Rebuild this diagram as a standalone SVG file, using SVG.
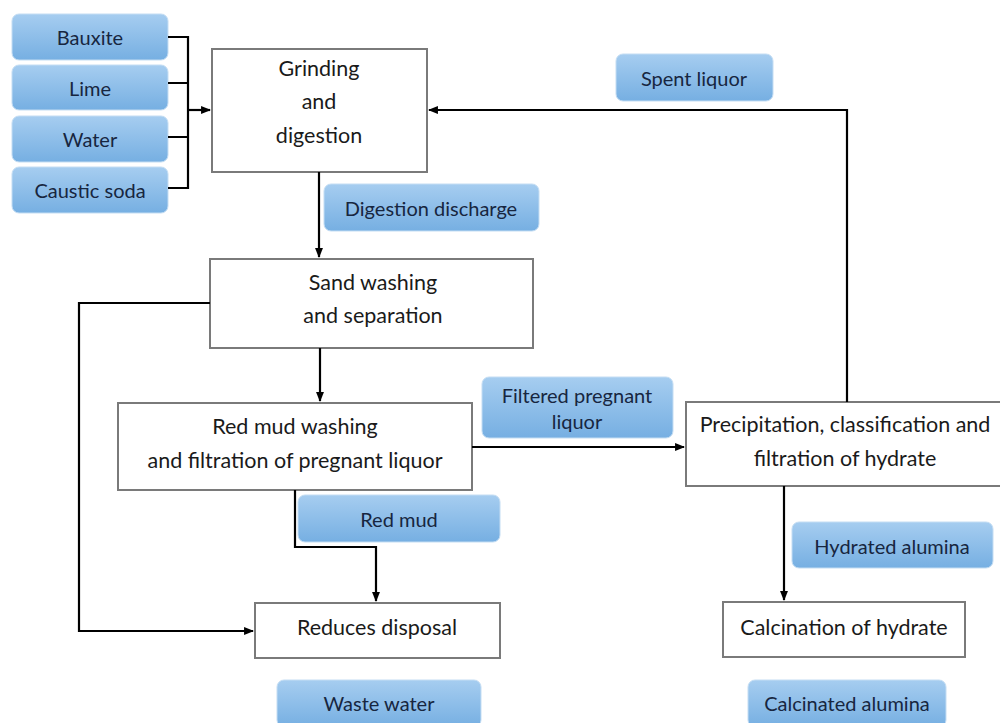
<svg xmlns="http://www.w3.org/2000/svg" width="1000" height="723" viewBox="0 0 1000 723">
<defs>
<linearGradient id="blue" x1="0" y1="0" x2="0" y2="1">
<stop offset="0" stop-color="#a6cdf0"/>
<stop offset="1" stop-color="#76afe2"/>
</linearGradient>
<marker id="arr" viewBox="0 0 10 10" refX="9" refY="5" markerWidth="4.5" markerHeight="4.5" orient="auto">
<path d="M0,1 L10,5 L0,9 z" fill="#000"/>
</marker>
<style>
.lbl rect{fill:url(#blue);stroke:#c4ddf3;stroke-width:1}
.lbl text{font-family:Lato,"Liberation Sans",sans-serif;font-size:20px;fill:#172640;text-anchor:middle;dominant-baseline:central}
.box rect{fill:#fff;stroke:#7a7a7a;stroke-width:2}
.box text{font-family:Lato,"Liberation Sans",sans-serif;font-size:21.5px;fill:#1a1a1a;text-anchor:middle;dominant-baseline:central}
.conn path{fill:none;stroke:#000;stroke-width:2.2}
</style>
</defs>
<rect width="1000" height="723" fill="#fff"/>

<g id="bauxite" class="lbl"><rect x="12" y="14" width="156" height="46" rx="7"/><text x="90" y="37">Bauxite</text></g>
<g id="lime" class="lbl"><rect x="12" y="65" width="156" height="45" rx="7"/><text x="90" y="88">Lime</text></g>
<g id="water" class="lbl"><rect x="12" y="116" width="156" height="46" rx="7"/><text x="90" y="139">Water</text></g>
<g id="caustic" class="lbl"><rect x="12" y="167" width="156" height="46" rx="7"/><text x="90" y="190">Caustic soda</text></g>

<g id="spent" class="lbl"><rect x="616" y="54" width="157" height="47" rx="7"/><text x="694" y="78">Spent liquor</text></g>
<g id="digdis" class="lbl"><rect x="324" y="184" width="215" height="47" rx="7"/><text x="431" y="208">Digestion discharge</text></g>
<g id="filtered" class="lbl"><rect x="482" y="377" width="191" height="61" rx="7"/><text x="577" y="395">Filtered pregnant</text><text x="577" y="421">liquor</text></g>
<g id="redmudlbl" class="lbl"><rect x="298" y="495" width="202" height="47" rx="7"/><text x="399" y="519">Red mud</text></g>
<g id="hydrated" class="lbl"><rect x="792" y="522" width="201" height="46" rx="7"/><text x="892" y="546">Hydrated alumina</text></g>
<g id="waste" class="lbl"><rect x="277" y="680" width="204" height="47" rx="7"/><text x="379" y="703">Waste water</text></g>
<g id="calcinated" class="lbl"><rect x="748" y="680" width="198" height="47" rx="7"/><text x="847" y="703">Calcinated alumina</text></g>

<g id="grinding" class="box"><rect x="212" y="49" width="215" height="123"/><text x="319" y="68">Grinding</text><text x="319" y="101">and</text><text x="319" y="135">digestion</text></g>
<g id="sand" class="box"><rect x="210" y="259" width="323" height="89"/><text x="373" y="282">Sand washing</text><text x="373" y="315">and separation</text></g>
<g id="redmud" class="box"><rect x="118" y="403" width="354" height="87"/><text x="295" y="426">Red mud washing</text><text x="295" y="460">and filtration of pregnant liquor</text></g>
<g id="precip" class="box"><rect x="686" y="402" width="320" height="84"/><text x="845" y="424">Precipitation, classification and</text><text x="845" y="458">filtration of hydrate</text></g>
<g id="reduces" class="box"><rect x="255" y="603" width="245" height="55"/><text x="377" y="627">Reduces disposal</text></g>
<g id="calcination" class="box"><rect x="723" y="602" width="242" height="55"/><text x="844" y="627">Calcination of hydrate</text></g>

<g id="connectors" class="conn">
<path d="M168,37 H188 V188 H168 M168,83 H188 M168,137 H188"/>
<path d="M188,110 H210" marker-end="url(#arr)"/>
<path d="M319,172 V257" marker-end="url(#arr)"/>
<path d="M320,348 V401" marker-end="url(#arr)"/>
<path d="M210,303 H79 V631 H253" marker-end="url(#arr)"/>
<path d="M295,490 V547 H376 V601" marker-end="url(#arr)"/>
<path d="M472,447 H684" marker-end="url(#arr)"/>
<path d="M847,402 V110 H429" marker-end="url(#arr)"/>
<path d="M784,486 V600" marker-end="url(#arr)"/>
</g>
</svg>
